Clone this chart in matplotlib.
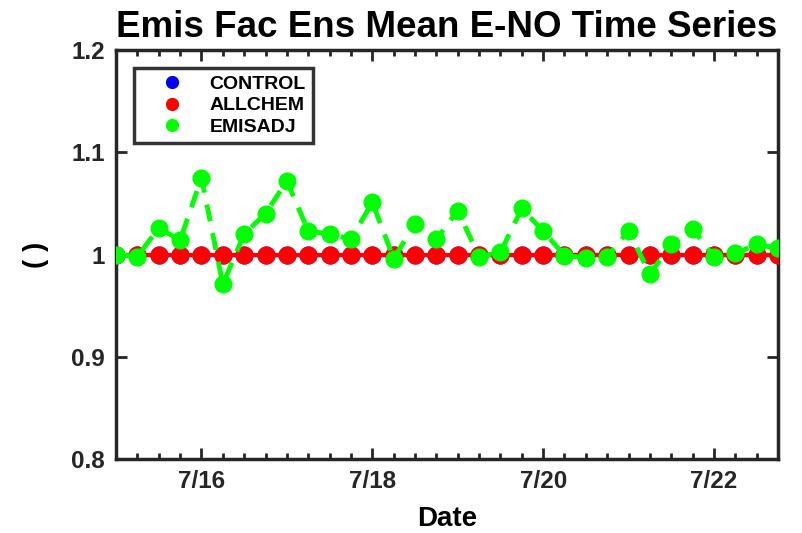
import matplotlib
matplotlib.use('Agg')
import matplotlib.pyplot as plt
import matplotlib.dates as mdates
from matplotlib.lines import Line2D
import numpy as np
import pandas as pd

plt.rcParams['font.family'] = ['Liberation Sans', 'DejaVu Sans']
plt.rcParams['font.weight'] = 'bold'

# 6-hourly times, 7/15 00:00 to 7/22 18:00
times = pd.date_range('2016-07-15 00:00', '2016-07-22 18:00', freq='6h')

control = [1.0] * 32
allchem = [1.0] * 32
emisadj = [1.000, 0.998, 1.026, 1.014, 1.075, 0.971, 1.020, 1.040,
           1.072, 1.023, 1.020, 1.015, 1.051, 0.996, 1.030, 1.015,
           1.043, 0.998, 1.002, 1.045, 1.023, 0.999, 0.997, 0.998,
           1.023, 0.981, 1.010, 1.025, 0.998, 1.001, 1.010, 1.006]

names = ['CONTROL', 'ALLCHEM', 'EMISADJ']
colors = ['#0000ff', '#ff0000', '#00ff00']
ax_col = '#262626'

fig = plt.figure(figsize=(8.03, 5.33), dpi=100)
ax = fig.add_axes([0.1445, 0.1388, 0.8244, 0.7674])

ax.plot(times, control, '-o', color=colors[0], lw=3, ms=12, zorder=2)
ax.plot(times, allchem, '-o', color=colors[1], lw=3, ms=12, zorder=3)
ax.plot(times, emisadj, '--o', color=colors[2], lw=3.5, ms=12,
        dashes=(3.5, 2.5), zorder=4)

ax.set_ylim(0.8, 1.2)
ax.set_xlim(times[0], times[-1])
ax.set_yticks([0.8, 0.9, 1.0, 1.1, 1.2])
ax.set_yticklabels(['0.8', '0.9', '1', '1.1', '1.2'])
ax.xaxis.set_major_locator(mdates.DayLocator(bymonthday=[16, 18, 20, 22]))
ax.xaxis.set_minor_locator(mdates.HourLocator(byhour=[0, 6, 12, 18]))
ax.xaxis.set_major_formatter(
    plt.FuncFormatter(lambda v, p: '%d/%d' % (mdates.num2date(v).month, mdates.num2date(v).day)))

ax.tick_params(which='both', direction='in', top=True, right=True,
               colors=ax_col, width=2, labelsize=17.5, pad=8)
ax.tick_params(which='major', length=8)
ax.tick_params(which='minor', length=4)
for s in ax.spines.values():
    s.set_linewidth(2.5)
    s.set_color(ax_col)

ax.set_title('Emis Fac Ens Mean E-NO Time Series', fontsize=26.5,
             fontweight='bold', pad=9)
ax.set_xlabel('Date', fontsize=20, fontweight='bold', labelpad=9)
ax.set_ylabel('( )', fontsize=20, fontweight='bold', labelpad=16)

# legend shows markers only
handles = [Line2D([], [], ls='none', marker='o', color=c, ms=8.5) for c in colors]
leg = ax.legend(handles, names, loc='upper left', bbox_to_anchor=(0.027, 0.955),
                prop={'weight': 'bold', 'size': 14},
                frameon=True, fancybox=False, edgecolor='black',
                handlelength=3.2, handletextpad=0.35, labelspacing=0.2,
                borderpad=0.35, borderaxespad=0)
leg.get_frame().set_linewidth(2.5)

fig.savefig('out.png', dpi=100)
